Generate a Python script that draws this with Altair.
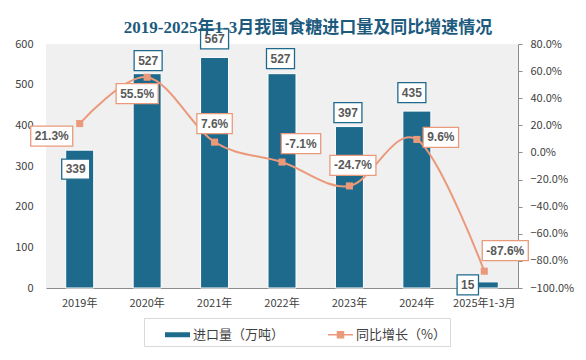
import altair as alt
import pandas as pd

# ---------------- data ----------------
years = ["2019年", "2020年", "2021年", "2022年", "2023年", "2024年", "2025年1-3月"]
imports = [339, 527, 567, 527, 397, 435, 15]
growth = [21.3, 55.5, 7.6, -7.1, -24.7, 9.6, -87.6]
import_labels = ["339", "527", "567", "527", "397", "435", "15"]
growth_labels = ["21.3%", "55.5%", "7.6%", "-7.1%", "-24.7%", "9.6%", "-87.6%"]
series = ["进口量（万吨）", "同比增长（%）"]
title_text = "2019-2025年1-3月我国食糖进口量及同比增速情况"

# ---------------- layout / style ----------------
TEAL = "#1e6a8c"
SALMON = "#ea9a7b"
LABEL_GREY = "#595959"
AXIS_GREY = "#404040"
CJK = "Noto Sans CJK SC"

bar_label_offsets = [(-4, 19), (1, -13), (0, -18.5), (-1.5, -15), (-1.5, -14), (-5, -18.5), (-16.5, 3)]
pct_label_offsets = [(-28, 12.5), (-10, 16.5), (0, -18.5), (19, -18.5), (3.5, -20.5), (24, -2), (21, -20.5)]

W, H = 472, 244

df = pd.DataFrame({
    "year": years,
    "imports": imports,
    "growth": growth,
    "imp_label": import_labels,
    "pct_label": growth_labels,
    "idx": list(range(len(years))),
})
df["series_bar"] = series[0]


def text_width(s, size=12):
    w = {"-": 0.333, ".": 0.278, "%": 0.889}
    return sum(w.get(c, 0.556) for c in s) * size


def box_path(label):
    w = text_width(label) + 8
    h = 20
    return f"M{-w/2:.1f},{-h/2}H{w/2:.1f}V{h/2}H{-w/2:.1f}Z"


x_enc = alt.X(
    "year:N",
    sort=years,
    scale=alt.Scale(paddingInner=0.5, paddingOuter=0.25),
    axis=alt.Axis(
        title=None, labelAngle=0, ticks=False, domainColor="#8c8c8c", domainWidth=1.2,
        labelFont=CJK, labelFontSize=11, labelColor=AXIS_GREY, labelPadding=9,
    ),
)

left_scale = alt.Scale(domain=[0, 600], nice=False)
right_scale = alt.Scale(domain=[-100, 80], nice=False)

y_left = alt.Y(
    "imports:Q", scale=left_scale,
    axis=alt.Axis(
        title=None, orient="left", values=[0, 100, 200, 300, 400, 500, 600], ticks=False,
        domain=False, grid=False, labelPadding=13, labelFont=CJK, labelFontSize=11,
        labelColor=AXIS_GREY,
    ),
)
y_left_noaxis = alt.Y("imports:Q", scale=left_scale, axis=None)

y_right = alt.Y(
    "growth:Q", scale=right_scale,
    axis=alt.Axis(
        title=None, orient="right", values=list(range(-100, 81, 20)),
        labelExpr="format(datum.value, '.1f') + '%'", tickSize=4, tickColor="#8c8c8c",
        domainColor="#8c8c8c", grid=False, labelPadding=8, labelFont=CJK, labelFontSize=11,
        labelColor=AXIS_GREY,
    ),
)
y_right_noaxis = alt.Y("growth:Q", scale=right_scale, axis=None)

legend_def = alt.Legend(
    title=None, orient="none", legendX=98, legendY=274, direction="horizontal",
    strokeColor="#d9d9d9", padding=4, symbolSize=625, symbolStrokeWidth=0,
    labelFont=CJK, labelFontSize=13, labelColor=AXIS_GREY, columnPadding=26,
    symbolOffset=17, labelOffset=3,
)
bar_sym = "M-1,-0.2H1V0.2H-1Z"
line_sym = "M-1,-0.06H1V0.06H-1Z M-0.3,-0.3H0.3V0.3H-0.3Z"

color_enc = alt.Color("series_bar:N", scale=alt.Scale(domain=series, range=[TEAL, SALMON]), legend=legend_def)
shape_enc = alt.Shape("series_bar:N", scale=alt.Scale(domain=series, range=[bar_sym, line_sym]), legend=legend_def)

base = alt.Chart(df)

bars = base.mark_bar(size=28, stroke="white", strokeWidth=1).encode(x=x_enc, y=y_left, color=color_enc)
legend_pts = base.transform_filter("false").mark_point(filled=True, opacity=1).encode(
    x=x_enc, y=y_left, color=color_enc, shape=shape_enc
)
left_main = alt.layer(bars, legend_pts)

line = base.mark_line(color=SALMON, strokeWidth=2, interpolate="cardinal").encode(x=x_enc, y=y_right)
pts = base.mark_point(shape="square", size=50, filled=True, color=SALMON, opacity=1).encode(x=x_enc, y=y_right)
right_main = alt.layer(line, pts)

left_lbl_layers = []
for i, (dx, dy) in enumerate(bar_label_offsets):
    b = base.transform_filter(alt.datum.idx == i)
    left_lbl_layers.append(
        b.mark_point(shape=box_path(import_labels[i]), size=4, filled=True, fill="white",
                     stroke=TEAL, strokeWidth=1.3, opacity=1, xOffset=dx, yOffset=dy)
        .encode(x=x_enc, y=y_left_noaxis)
    )
    left_lbl_layers.append(
        b.mark_text(font="Liberation Sans", fontWeight="bold", fontSize=12, color=LABEL_GREY,
                    dx=dx, dy=dy, baseline="middle", align="center")
        .encode(x=x_enc, y=y_left_noaxis, text="imp_label:N")
    )
left_labels = alt.layer(*left_lbl_layers)

right_lbl_layers = []
for i, (dx, dy) in enumerate(pct_label_offsets):
    b = base.transform_filter(alt.datum.idx == i)
    right_lbl_layers.append(
        b.mark_point(shape=box_path(growth_labels[i]), size=4, filled=True, fill="white",
                     stroke=SALMON, strokeWidth=1.3, opacity=1, xOffset=dx, yOffset=dy)
        .encode(x=x_enc, y=y_right_noaxis)
    )
    right_lbl_layers.append(
        b.mark_text(font="Liberation Sans", fontWeight="bold", fontSize=12, color=LABEL_GREY,
                    dx=dx, dy=dy, baseline="middle", align="center")
        .encode(x=x_enc, y=y_right_noaxis, text="pct_label:N")
    )
right_labels = alt.layer(*right_lbl_layers)

chart = (
    alt.layer(left_main, right_main, left_labels, right_labels)
    .resolve_scale(y="independent")
    .properties(
        width=W,
        height=H,
        autosize=alt.AutoSizeParams(type="none"),
        padding={"left": 38, "top": 36, "right": 60, "bottom": 64},
        background="white",
        title=alt.Title(
            title_text, font="Liberation Serif, " + CJK, fontSize=17, fontWeight="bold",
            color="#1d5b7e", anchor="middle", frame="group", dx=26, dy=15, offset=4,
        ),
    )
    .configure_view(stroke=None, fill="#f0f0f0")
)

chart.save("out.html", embed_options={"renderer": "svg", "actions": False})
